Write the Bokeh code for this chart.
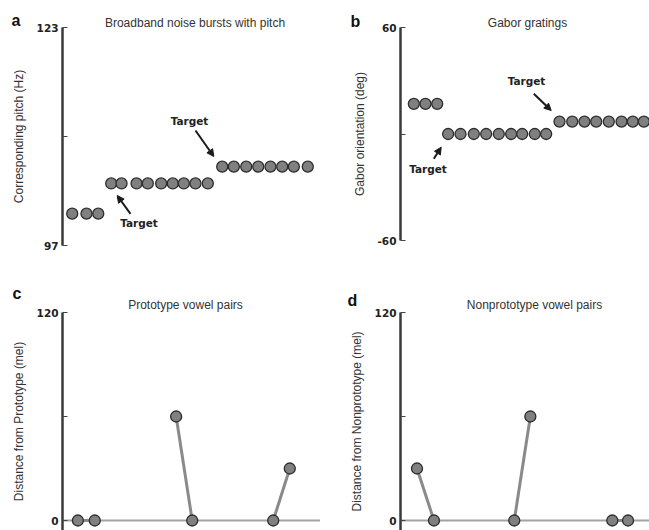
from bokeh.plotting import figure
from bokeh.layouts import column, row
from bokeh.models import Range1d, FixedTicker, Label, Arrow, NormalHead
from bokeh.embed import file_html
from bokeh.resources import INLINE

# ---------------- data (x in stimulus-spacing units) ----------------
# a: Broadband noise bursts with pitch (Hz)
a_x = [0.81, 2.0, 2.98, 4.06, 4.92, 6.17, 7.11, 8.22, 9.19, 10.11, 11.08, 12.11,
       13.31, 14.28, 15.31, 16.31, 17.33, 18.31, 19.28, 20.44]
a_y = [100.8, 100.8, 100.8,
       104.4, 104.4, 104.4, 104.4, 104.4, 104.4, 104.4, 104.4, 104.4,
       106.4, 106.4, 106.4, 106.4, 106.4, 106.4, 106.4, 106.4]
a_ticks = [97, 110, 123]
a_tick_labels = ["97", "", "123"]

# b: Gabor gratings (deg)
b_x = [1.11, 2.08, 3.06, 3.97, 5.0, 6.11, 7.14, 8.19, 9.22, 10.14, 11.19, 12.14,
       13.25, 14.31, 15.33, 16.31, 17.36, 18.42, 19.36, 20.28]
b_y = [17, 17, 17,
       0, 0, 0, 0, 0, 0, 0, 0, 0,
       7, 7, 7, 7, 7, 7, 7, 7]
b_ticks = [-60, 0, 60]
b_tick_labels = ["-60", "", "60"]

# c: Prototype vowel pairs (mel)
c_x = [1.28, 2.69, 9.47, 10.81, 17.56, 18.94]
c_y = [0, 0, 60, 0, 0, 30]
# d: Nonprototype vowel pairs (mel)
d_x = [1.375, 2.79, 9.48, 10.82, 17.65, 18.96]
d_y = [30, 0, 0, 60, 0, 0]
cd_ticks = [0, 60, 120]
cd_tick_labels = ["0", "", "120"]

UNIT = 12.0  # px per x unit
DOT_FILL = "#808080"
DOT_LINE = "#2d2d2d"


def make_fig(w, h, axis_px, y_top_px, y_bot_px, ticks):
    """Frame fills the whole figure; the y axis is fixed at x = 0."""
    lo, hi = ticks[0], ticks[-1]
    ppu = (h - y_top_px - y_bot_px) / float(hi - lo)
    yr = (lo - y_bot_px / ppu, hi + y_top_px / ppu)
    p = figure(width=w, height=h,
               x_range=Range1d(-axis_px / UNIT, (w - axis_px) / UNIT),
               y_range=Range1d(*yr), output_backend="svg", toolbar_location=None,
               x_axis_type=None, min_border=0, min_border_left=0, min_border_top=0,
               min_border_bottom=0, min_border_right=0)
    p.grid.visible = False
    p.outline_line_color = None
    return p


def style_axis(p, ticks, tick_labels, label, bounds):
    ax = p.yaxis[0]
    ax.fixed_location = 0
    ax.bounds = bounds
    ax.ticker = FixedTicker(ticks=ticks)
    ax.major_label_overrides = {t: s for t, s in zip(ticks, tick_labels)}
    ax.axis_label = label
    ax.axis_line_color = "#3a3a3a"
    ax.axis_line_width = 2.5
    ax.major_tick_in = 5
    ax.major_tick_out = 0
    ax.major_tick_line_color = "#444444"
    ax.major_tick_line_width = 1.2
    ax.minor_tick_line_color = None
    ax.major_label_text_font = "DejaVu Sans"
    ax.major_label_text_font_style = "bold"
    ax.major_label_text_font_size = "10.5px"
    ax.major_label_text_color = "#222222"
    ax.major_label_standoff = 4
    ax.axis_label_text_font = "Liberation Sans"
    ax.axis_label_text_font_style = "normal"
    ax.axis_label_text_font_size = "12px"
    ax.axis_label_text_color = "#333333"
    ax.axis_label_standoff = 8


def add_title(p, text, x, y):
    p.add_layout(Label(x=x, y=y, x_units="screen", y_units="screen", text=text,
                       text_font="Liberation Sans", text_font_size="12px",
                       text_color="#333333", text_align="center",
                       text_baseline="middle"))


def add_letter(p, text, x, y):
    p.add_layout(Label(x=x, y=y, x_units="screen", y_units="screen", text=text,
                       text_font="Liberation Sans", text_font_style="bold",
                       text_font_size="16px", text_color="#111111",
                       text_align="left", text_baseline="alphabetic"))


def add_target(p, tx, ty, x0, y0, x1, y1):
    p.add_layout(Label(x=tx, y=ty, x_units="screen", y_units="screen", text="Target",
                       text_font="DejaVu Sans", text_font_style="bold",
                       text_font_size="10.5px", text_color="#222222",
                       text_align="center", text_baseline="middle"))
    p.add_layout(Arrow(end=NormalHead(size=7, fill_color="#1a1a1a", line_color="#1a1a1a"),
                       x_start=x0, y_start=y0, x_end=x1, y_end=y1,
                       start_units="screen", end_units="screen",
                       line_color="#1a1a1a", line_width=2))


# ---------------- panel a ----------------
pa = make_fig(320, 270, 62, 27, 25, a_ticks)
pa.scatter(a_x, a_y, size=11, fill_color=DOT_FILL, line_color=DOT_LINE, line_width=1.3)
style_axis(pa, a_ticks, a_tick_labels, "Corresponding pitch (Hz)", (a_ticks[0], a_ticks[-1]))
add_title(pa, "Broadband noise bursts with pitch", 194.5, 248)
add_letter(pa, "a", 11, 250)
add_target(pa, 189, 150, 195, 140, 213.3, 114)
add_target(pa, 138.5, 48, 130, 56.7, 116.7, 75)

# ---------------- panel b ----------------
pb = make_fig(329, 270, 80, 27, 30, b_ticks)
pb.scatter(b_x, b_y, size=11, fill_color=DOT_FILL, line_color=DOT_LINE, line_width=1.3)
style_axis(pb, b_ticks, b_tick_labels, "Gabor orientation (deg)", (b_ticks[0], b_ticks[-1]))
add_title(pb, "Gabor gratings", 207, 248)
add_letter(pb, "b", 30, 249)
add_target(pb, 206, 190, 213.3, 176.7, 230.7, 160)
add_target(pb, 107.5, 102, 113.3, 111.7, 120.7, 123.3)


# ---------------- panels c, d ----------------
def pair_panel(px, py, w, axis_px, title, label, tx):
    p = make_fig(w, 260, axis_px, 42, 10, cd_ticks)
    p.segment(x0=0, y0=0, x1=p.x_range.end, y1=0, line_color="#a3a3a3", line_width=2)
    xs = [[px[i], px[i + 1]] for i in range(0, len(px), 2)]
    ys = [[py[i], py[i + 1]] for i in range(0, len(py), 2)]
    p.multi_line(xs, ys, line_color="#8a8a8a", line_width=3)
    p.scatter(px, py, size=11, fill_color=DOT_FILL, line_color=DOT_LINE, line_width=1.3)
    style_axis(p, cd_ticks, cd_tick_labels, label, (p.y_range.start, cd_ticks[-1]))
    add_title(p, title, tx, 226)
    return p


pc = pair_panel(c_x, c_y, 320, 62, "Prototype vowel pairs",
                "Distance from Prototype (mel)", 185)
add_letter(pc, "c", 12, 237)
pd_ = pair_panel(d_x, d_y, 329, 80, "Nonprototype vowel pairs",
                 "Distance from Nonprototype (mel)", 214)
add_letter(pd_, "d", 27, 230)

layout = column(row(pa, pb), row(pc, pd_))
open("out.html", "w").write(file_html(layout, INLINE))
